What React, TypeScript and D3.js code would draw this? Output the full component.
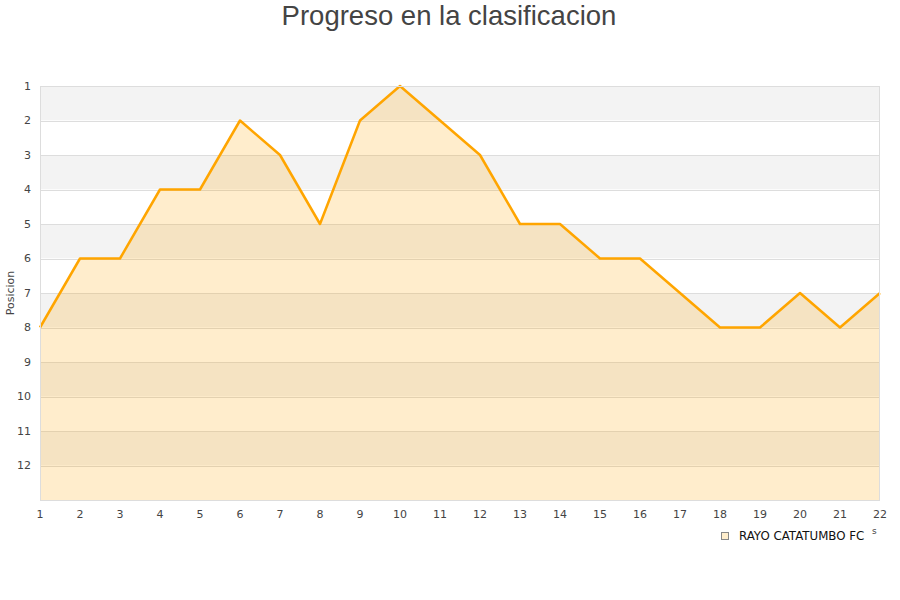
import * as d3 from "d3";

const jornadas = [1, 2, 3, 4, 5, 6, 7, 8, 9, 10, 11, 12, 13, 14, 15, 16, 17, 18, 19, 20, 21, 22];
const posiciones = [8, 6, 6, 4, 4, 2, 3, 5, 2, 1, 2, 3, 5, 5, 6, 6, 7, 8, 8, 7, 8, 7];
const yTicks = [1, 2, 3, 4, 5, 6, 7, 8, 9, 10, 11, 12];
const equipo = "RAYO CATATUMBO FC";
const titulo = "Progreso en la clasificacion";

const W = 900;
const H = 600;
const left = 40;
const right = 880;
const top = 86;
const bottom = 500;

export default function App() {
  const x = d3.scaleLinear().domain([1, 22]).range([left, right]);
  const y = d3.scaleLinear().domain([1, 13]).range([top, bottom]);

  const pts = jornadas.map((j, i) => [j, posiciones[i]] as [number, number]);
  const area = d3
    .area<[number, number]>()
    .x((d) => x(d[0]))
    .y0(y(13))
    .y1((d) => y(d[1]));
  const line = d3
    .line<[number, number]>()
    .x((d) => x(d[0]))
    .y((d) => y(d[1]));

  // bands: 1-2 grey, 2-3 white, ...
  const bands = d3.range(1, 13);
  const font = "DejaVu Sans, Verdana, sans-serif";

  return (
    <svg
      width={W}
      height={H}
      style={{ position: "absolute", left: 0, top: 0, background: "#fff" }}
    >
      <text
        x={449}
        y={25}
        textAnchor="middle"
        fontFamily="Liberation Sans, Arial, sans-serif"
        fontSize={27.5}
        fill="#444"
      >
        {titulo}
      </text>

      {bands.map((b) => (
        <rect
          key={b}
          x={left}
          y={y(b)}
          width={right - left}
          height={y(b + 1) - y(b)}
          fill={b % 2 === 1 ? "#f3f3f3" : "#ffffff"}
        />
      ))}
      {yTicks.map((t) => (
        <line
          key={t}
          x1={left}
          x2={right}
          y1={Math.round(y(t)) + 0.5}
          y2={Math.round(y(t)) + 0.5}
          stroke="#dddddd"
          strokeWidth={1}
        />
      ))}

      <path d={area(pts) || ""} fill="rgba(255,165,0,0.2)" />
      <path
        d={line(pts) || ""}
        fill="none"
        stroke="#ffa500"
        strokeWidth={2.5}
        strokeLinejoin="round"
      />

      <rect
        x={left + 0.5}
        y={top + 0.5}
        width={right - left - 1}
        height={bottom - top}
        fill="none"
        stroke="#dddddd"
      />

      {yTicks.map((t) => (
        <text
          key={t}
          x={31}
          y={y(t)}
          dy="0.35em"
          textAnchor="end"
          fontFamily={font}
          fontSize={11}
          fill="#444"
        >
          {t}
        </text>
      ))}
      {jornadas.map((j) => (
        <text
          key={j}
          x={x(j)}
          y={514}
          dy="0.35em"
          textAnchor="middle"
          fontFamily={font}
          fontSize={11}
          fill="#444"
        >
          {j}
        </text>
      ))}

      <text
        transform={`translate(14, ${(top + bottom) / 2}) rotate(-90)`}
        textAnchor="middle"
        fontFamily={font}
        fontSize={11}
        fill="#444"
      >
        Posicion
      </text>
      <text x={872} y={534} fontFamily={font} fontSize={9} fill="#444">
        s
      </text>

      <rect x={721.5} y={532.5} width={7} height={7} fill="#ffeecc" stroke="#888" />
      <text x={739} y={540} fontFamily={font} fontSize={11.8} fill="#111">
        {equipo}
      </text>
    </svg>
  );
}
